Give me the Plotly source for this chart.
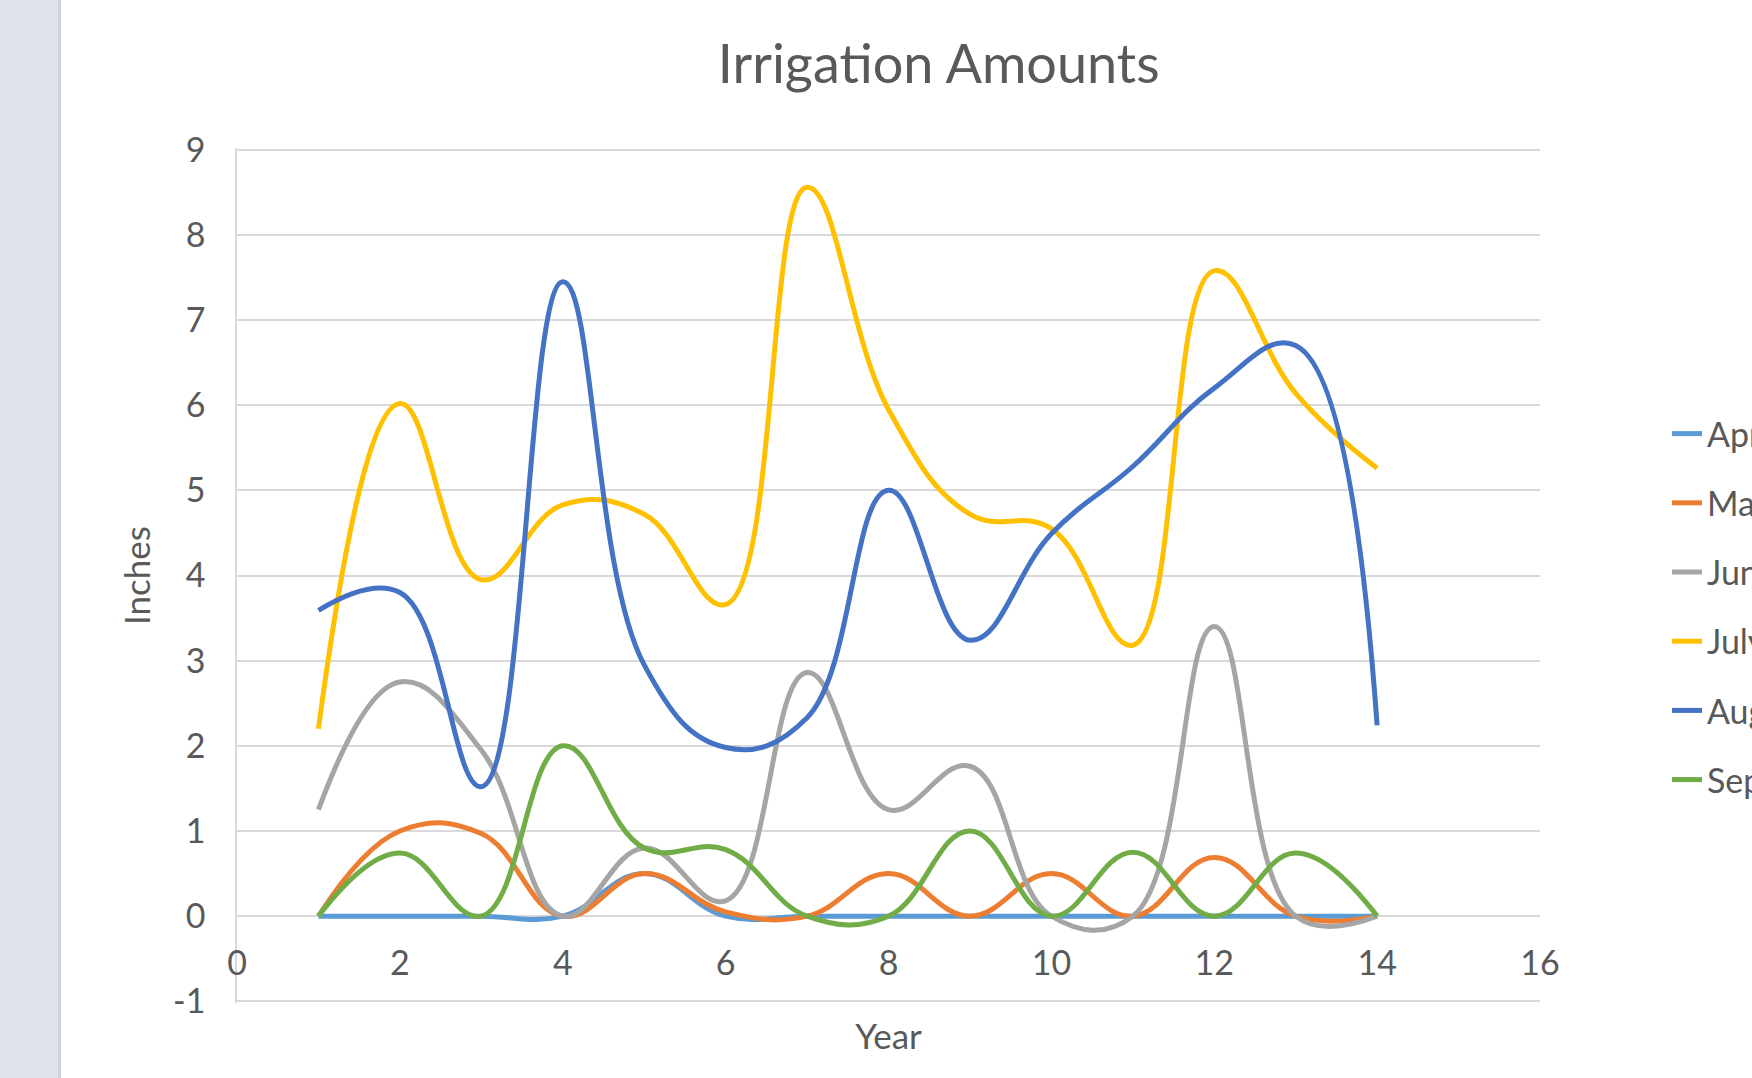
import plotly.graph_objects as go

years = list(range(1, 15))
april = [0, 0, 0, 0, 0.5, 0, 0, 0, 0, 0, 0, 0, 0, 0]
may = [0, 1.0, 0.97, 0, 0.5, 0.05, 0, 0.5, 0, 0.5, 0, 0.69, 0, 0]
june = [1.25, 2.75, 1.95, 0, 0.8, 0.18, 2.86, 1.25, 1.76, 0, 0, 3.4, 0, 0]
july = [2.2, 6.02, 3.95, 4.83, 4.72, 3.66, 8.56, 5.95, 4.72, 4.55, 3.18, 7.58, 6.14, 5.26]
august = [3.59, 3.8, 1.52, 7.45, 2.95, 1.98, 2.33, 5.0, 3.24, 4.49, 5.28, 6.2, 6.7, 2.24]
september = [0, 0.74, 0, 2.0, 0.8, 0.78, 0, 0, 1.0, 0, 0.75, 0, 0.74, 0]

series_names = ["April", "May", "June", "July", "August", "September"]
series_values = [april, may, june, july, august, september]
series_colors = ["#5B9BD5", "#ED7D31", "#A5A5A5", "#FFC000", "#4472C4", "#70AD47"]

x_ticks = list(range(0, 17, 2))
y_ticks = list(range(-1, 10))

FONT = "Lato"
TXT = "#595959"
GRID = "#d9d9d9"

W, H = 1752, 1078
ML, MR, MT, MB = 237, 212, 148, 75
PW = W - ML - MR
PH = H - MT - MB
Y_RANGE = [-1.02, 9.02]

fig = go.Figure()
for name, vals, col in zip(series_names, series_values, series_colors):
    fig.add_trace(go.Scatter(
        x=years, y=vals, name=name, mode="lines", legendgroup=name,
        line=dict(color=col, width=5, shape="spline", smoothing=1.2),
    ))

fig.update_layout(
    width=W, height=H,
    margin=dict(l=ML, r=MR, t=MT, b=MB, autoexpand=False),
    paper_bgcolor="white", plot_bgcolor="white",
    font=dict(family=FONT, color=TXT, size=34),
    title=dict(text="Irrigation Amounts", x=938.7 / W, xref="container", xanchor="center",
               y=1 - 64 / H, yref="container", yanchor="middle",
               font=dict(family=FONT, size=54, color=TXT)),
    xaxis=dict(range=[0, 16], tickvals=x_ticks, ticktext=[str(v) for v in x_ticks],
               showgrid=False, zeroline=False, showline=False, ticks="",
               anchor="free", position=(0 - Y_RANGE[0]) / (Y_RANGE[1] - Y_RANGE[0]),
               ticklabelstandoff=24,
               tickfont=dict(size=34, color=TXT, family=FONT),
               title=dict(text="Year", font=dict(size=35, color=TXT, family=FONT), standoff=43)),
    yaxis=dict(range=Y_RANGE, tickvals=y_ticks, ticktext=[str(v) for v in y_ticks],
               showgrid=True, gridcolor=GRID, gridwidth=1.5, zeroline=False,
               showline=True, linecolor=GRID, linewidth=1.5, ticks="",
               ticklabelstandoff=23,
               tickfont=dict(size=34, color=TXT, family=FONT),
               title=dict(text="Inches", font=dict(size=35, color=TXT, family=FONT), standoff=12)),
    legend=dict(x=(1667 - ML) / PW, xanchor="left", y=(MT + PH - 607) / PH, yanchor="middle",
                font=dict(size=34, color=TXT, family=FONT), tracegroupgap=22,
                bgcolor="rgba(0,0,0,0)", borderwidth=0, itemclick=False),
    showlegend=True,
    shapes=[
        dict(type="rect", xref="paper", yref="paper",
             x0=(0 - ML) / PW, x1=(58 - ML) / PW, y0=-MB / PH - 0.01, y1=1 + MT / PH + 0.01,
             fillcolor="#dfe3eb", line=dict(width=0), layer="below"),
        dict(type="line", xref="paper", yref="paper",
             x0=(59.5 - ML) / PW, x1=(59.5 - ML) / PW, y0=-MB / PH - 0.01, y1=1 + MT / PH + 0.01,
             line=dict(color="#d0d3d9", width=3), layer="below"),
    ],
)

fig.write_html("out.html", config={"displayModeBar": False},
               post_script="document.body.style.margin='0';")
